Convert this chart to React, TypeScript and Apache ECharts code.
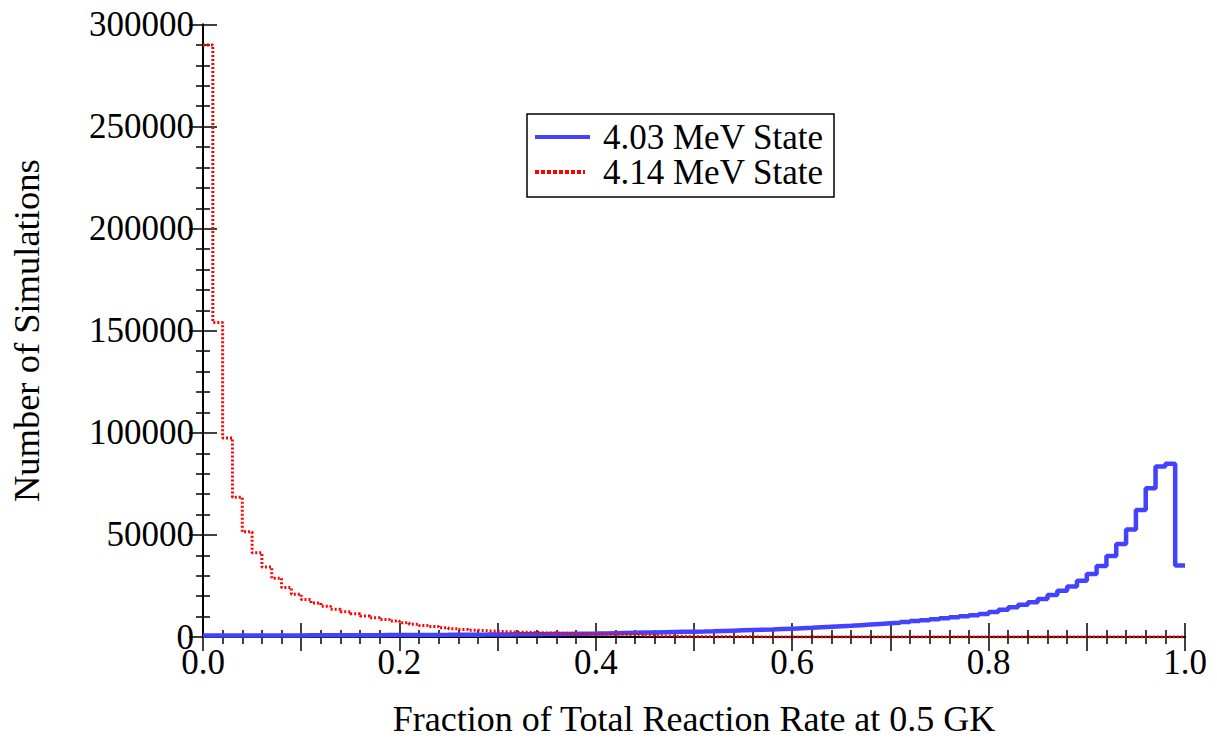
import React, { useEffect, useRef } from "react";
import * as echarts from "echarts";

// Histogram bins: 100 bins of width 0.01 on [0, 1]
const BIN_WIDTH = 0.01;
const BIN_COUNT = 100;

const seriesNames = ["4.03 MeV State", "4.14 MeV State"];
const seriesColors = ["#4343ff", "#ff0000"];

// 4.03 MeV State (blue), counts per bin
const state403: number[] = [
  700, 710, 720, 730, 740, 750, 760, 770, 780, 790,
  800, 815, 830, 845, 860, 875, 890, 905, 920, 940,
  960, 985, 1010, 1035, 1060, 1090, 1120, 1150, 1180, 1220,
  1260, 1300, 1340, 1380, 1420, 1470, 1520, 1570, 1620, 1680,
  1750, 1850, 1950, 2050, 2150, 2250, 2350, 2450, 2550, 2620,
  2700, 2800, 2950, 3100, 3250, 3400, 3550, 3700, 3900, 4100,
  4300, 4500, 4750, 5000, 5250, 5500, 5800, 6100, 6400, 6700,
  7000, 7400, 7800, 8200, 8700, 9200, 9700, 10200, 10700, 11300,
  12200, 13300, 14600, 15800, 17000, 18600, 20600, 22600, 24700, 27600,
  30900, 34800, 39700, 45600, 52700, 62200, 72800, 83500, 84800, 35000,
];

// 4.14 MeV State (red), counts per bin
const state414: number[] = [
  290000, 154000, 97500, 68500, 51500, 41300, 34300, 28800, 24200, 21000,
  18400, 16700, 15100, 13600, 12400, 11400, 10300, 9400, 8600, 7800,
  7000, 6300, 5600, 5100, 4500, 4100, 3700, 3300, 3000, 2800,
  2600, 2400, 2300, 2200, 2000, 1900, 1800, 1700, 1600, 1500,
  1450, 1350, 1300, 1200, 1100, 700, 500, 400, 300, 200,
  150, 120, 100, 90, 80, 70, 60, 55, 50, 45,
  40, 35, 30, 30, 25, 25, 20, 20, 20, 15,
  15, 15, 10, 10, 10, 10, 10, 5, 5, 5,
  5, 5, 5, 5, 5, 0, 0, 0, 0, 0,
  0, 0, 0, 0, 0, 0, 0, 0, 0, 0,
];

const xTickValues = [0, 0.2, 0.4, 0.6, 0.8, 1.0];
const yTickValues = [0, 50000, 100000, 150000, 200000, 250000, 300000];

const FONT = "Liberation Serif";

function toSteps(values: number[]): [number, number][] {
  const pts: [number, number][] = values.map((v, i) => [
    Math.round(i * BIN_WIDTH * 1000) / 1000,
    v,
  ]);
  pts.push([BIN_COUNT * BIN_WIDTH, values[values.length - 1]]);
  return pts;
}

export default function App() {
  const ref = useRef<HTMLDivElement>(null);
  useEffect(() => {
    if (!ref.current) return;
    const chart = echarts.init(ref.current, undefined, { renderer: "svg" });
    const axisLine = { show: true, lineStyle: { color: "#000", width: 2 } };
    const tickStyle = { color: "#000", width: 1.5 };
    const xCommon = {
      type: "value" as const,
      min: 0,
      max: 1,
      interval: 0.1,
      axisLine,
      axisTick: { show: true, inside: true, length: 14, lineStyle: tickStyle },
      minorTick: { show: true, splitNumber: 5, length: 7, lineStyle: tickStyle },
      splitLine: { show: false },
    };
    const yCommon = {
      type: "value" as const,
      min: 0,
      max: 300000,
      interval: 50000,
      axisLine,
      axisTick: { show: true, inside: true, length: 14, lineStyle: tickStyle },
      minorTick: { show: true, splitNumber: 5, length: 7, lineStyle: tickStyle },
      splitLine: { show: false },
    };
    const legendX = 527;
    const legendY = 114;
    const rowY = [137, 172];
    const legendText = (i: number) => ({
      type: "text",
      x: 603,
      y: rowY[i],
      style: {
        text: seriesNames[i],
        fontFamily: FONT,
        fontSize: 35,
        lineHeight: 30,
        fill: "#000",
        verticalAlign: "middle",
        align: "left",
      },
      z: 101,
    });
    chart.setOption({
      animation: false,
      backgroundColor: "#fff",
      grid: { left: 202.5, right: 32, top: 24.5, bottom: 104.5, containLabel: false },
      graphic: [
        {
          type: "rect",
          shape: { x: legendX, y: legendY, width: 307, height: 83 },
          style: { fill: "#fff", stroke: "#000", lineWidth: 1.5 },
          z: 100,
        },
        {
          type: "line",
          shape: { x1: 535, y1: rowY[0], x2: 590, y2: rowY[0] },
          style: { stroke: seriesColors[0], lineWidth: 4 },
          z: 101,
        },
        {
          type: "line",
          shape: { x1: 535, y1: rowY[1], x2: 585, y2: rowY[1] },
          style: { stroke: seriesColors[1], lineWidth: 4, lineDash: [4, 2] },
          z: 101,
        },
        legendText(0),
        legendText(1),
      ],
      xAxis: [
        {
          ...xCommon,
          position: "bottom",
          name: "Fraction of Total Reaction Rate at 0.5 GK",
          nameLocation: "middle",
          nameGap: 64,
          nameTextStyle: { fontFamily: FONT, fontSize: 36, color: "#000" },
          axisLabel: {
            show: true,
            margin: 12,
            lineHeight: 26,
            fontFamily: FONT,
            fontSize: 35,
            color: "#000",
            formatter: (v: number) => {
              const hit = xTickValues.some((t) => Math.abs(t - v) < 1e-6);
              return hit ? v.toFixed(1) : "";
            },
          },
        },
        {
          ...xCommon,
          position: "top",
          axisLabel: { show: false },
        },
      ],
      yAxis: [
        {
          ...yCommon,
          position: "left",
          name: "Number of Simulations",
          nameLocation: "middle",
          nameGap: 158,
          nameTextStyle: { fontFamily: FONT, fontSize: 36.5, color: "#000" },
          axisLabel: {
            show: true,
            margin: 9,
            lineHeight: 20,
            fontFamily: FONT,
            fontSize: 35,
            color: "#000",
            formatter: (v: number) =>
              yTickValues.includes(v) ? String(v) : "",
          },
        },
        {
          ...yCommon,
          position: "right",
          axisLabel: { show: false },
        },
      ],
      series: [
        {
          name: seriesNames[0],
          type: "line",
          step: "end",
          xAxisIndex: 0,
          yAxisIndex: 0,
          data: toSteps(state403),
          symbol: "none",
          showSymbol: false,
          lineStyle: { color: seriesColors[0], width: 4.5 },
          itemStyle: { color: seriesColors[0] },
        },
        {
          name: seriesNames[1],
          type: "line",
          step: "end",
          xAxisIndex: 0,
          yAxisIndex: 0,
          data: toSteps(state414),
          symbol: "none",
          showSymbol: false,
          lineStyle: { color: seriesColors[1], width: 3, type: [2, 2] },
          itemStyle: { color: seriesColors[1] },
        },
      ],
    });
    return () => chart.dispose();
  }, []);
  return (
    <div
      ref={ref}
      style={{ position: "fixed", left: 0, top: 0, width: 1217, height: 742 }}
    />
  );
}
